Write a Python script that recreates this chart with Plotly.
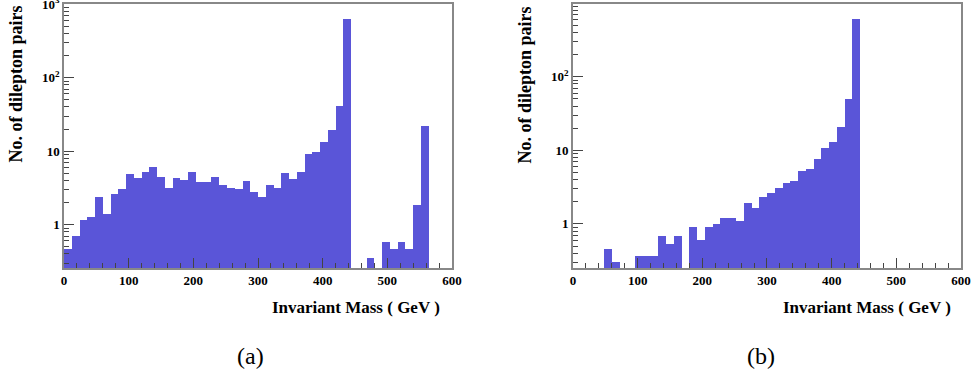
import plotly.graph_objects as go

# Histogram binning: 50 bins of 12 GeV from 0 to 600
bin_width = 12
bin_centers = [6 + 12 * i for i in range(50)]

# (a) counts per bin (None = empty bin)
counts_a = [0.47, 0.70, 1.16, 1.28, 2.4, 1.41, 2.64, 3.02, 4.93, 4.31,
            5.2, 6.08, 4.49, 3.15, 4.31, 4.05, 5.15, 3.76, 3.76, 4.4,
            3.46, 3.15, 3.02, 3.92, 2.78, 2.4, 3.46, 3.15, 5.04, 4.13,
            5.2, 9.03, 9.72, 13.3, 19.5, 41, 631, None, None, 0.35,
            None, 0.58, 0.47, 0.58, 0.47, 1.83, 21.7, None, None, None]

# (b) counts per bin
counts_b = [None, None, None, None, 0.45, 0.30, None, None, 0.37, 0.37,
            0.37, 0.68, 0.53, 0.68, None, 0.91, 0.61, 0.91, 1.0, 1.22,
            1.22, 1.08, 1.93, 1.67, 2.29, 2.59, 3.07, 3.55, 3.86, 5.17,
            5.5, 7.54, 10.6, 13.0, 20.8, 49.6, 611, None, None, None,
            None, None, None, None, None, None, None, None, None, None]

x_tickvals = [0, 100, 200, 300, 400, 500, 600]
x_ticktext = ["0", "100", "200", "300", "400", "500", "600"]
y_tickvals = [1, 10, 100, 1000]
y_ticktext = ["1", "10", "10<sup>2</sup>", "10<sup>3</sup>"]
y_minor = [0.3, 0.4, 0.5, 0.6, 0.7, 0.8, 0.9,
           2, 3, 4, 5, 6, 7, 8, 9,
           20, 30, 40, 50, 60, 70, 80, 90,
           200, 300, 400, 500, 600, 700, 800, 900]

bar_color = "#5a55d8"
serif = "Liberation Serif"

fig = go.Figure()
fig.add_trace(go.Bar(x=bin_centers, y=counts_a, width=bin_width,
                     marker=dict(color=bar_color, line=dict(width=0)),
                     xaxis="x", yaxis="y", showlegend=False))
fig.add_trace(go.Bar(x=bin_centers, y=counts_b, width=bin_width,
                     marker=dict(color=bar_color, line=dict(width=0)),
                     xaxis="x2", yaxis="y2", showlegend=False))

tickfont = dict(family=serif, size=13, color="black", weight="bold")

def xaxis(domain, anchor):
    return dict(domain=domain, anchor=anchor, range=[0, 600],
                tickvals=x_tickvals, ticktext=x_ticktext,
                ticks="inside", ticklen=10, tickwidth=1, tickcolor="#444",
                minor=dict(ticks="inside", ticklen=5, dtick=20, tickcolor="#444", tickwidth=1),
                showline=True, linecolor="#888", linewidth=1.5, mirror=True,
                showgrid=False, zeroline=False, tickfont=tickfont, automargin=False,
                ticklabeloverflow="allow")

def yaxis(anchor, rng):
    return dict(domain=[0, 1], anchor=anchor, type="log", range=rng,
                tickvals=y_tickvals, ticktext=y_ticktext,
                ticks="inside", ticklen=10, tickwidth=1, tickcolor="#444",
                minor=dict(ticks="inside", ticklen=5, tickvals=y_minor, tickcolor="#444", tickwidth=1),
                showline=True, linecolor="#888", linewidth=1.5, mirror=True,
                showgrid=False, zeroline=False, tickfont=tickfont, automargin=False,
                ticklabeloverflow="allow")

dom_a = [0, 0.4326]
dom_b = [0.5674, 1]

fig.update_layout(
    width=972, height=378,
    margin=dict(l=64, r=11, t=4, b=110),
    paper_bgcolor="white", plot_bgcolor="white",
    bargap=0,
    xaxis=xaxis(dom_a, "y"),
    yaxis=yaxis("x", [-0.59, 3.002]),
    xaxis2=xaxis(dom_b, "y2"),
    yaxis2=yaxis("x2", [-0.6, 2.99]),
)

title_font = dict(family=serif, size=18, color="black", weight="bold")
xtitle_font = dict(family=serif, size=17, color="black", weight="bold")
cap_y = -(356 - 268) / 264
annos = [
    dict(text="Invariant Mass ( GeV )", x=1, xref="x domain", y=-0.105, yref="y domain",
         xanchor="right", yanchor="top", xshift=-10, showarrow=False, font=xtitle_font),
    dict(text="Invariant Mass ( GeV )", x=1, xref="x2 domain", y=-0.105, yref="y2 domain",
         xanchor="right", yanchor="top", xshift=-8, showarrow=False, font=xtitle_font),
    dict(text="No. of dilepton pairs", x=0, xref="x domain", y=1, yref="y domain",
         xanchor="center", yanchor="top", xshift=-49, textangle=-90,
         showarrow=False, font=title_font),
    dict(text="No. of dilepton pairs", x=0, xref="x2 domain", y=1, yref="y2 domain",
         xanchor="center", yanchor="top", xshift=-48, textangle=-90,
         showarrow=False, font=title_font),
    dict(text="(a)", x=(250 - 64) / 897, xref="paper", y=cap_y, yref="paper",
         xanchor="center", yanchor="middle", showarrow=False,
         font=dict(family=serif, size=24, color="black")),
    dict(text="(b)", x=(761 - 64) / 897, xref="paper", y=cap_y, yref="paper",
         xanchor="center", yanchor="middle", showarrow=False,
         font=dict(family=serif, size=24, color="black")),
]
fig.update_layout(annotations=annos)

fig.write_html("out.html", config={"displayModeBar": False},
               post_script="document.body.style.margin='0';")
